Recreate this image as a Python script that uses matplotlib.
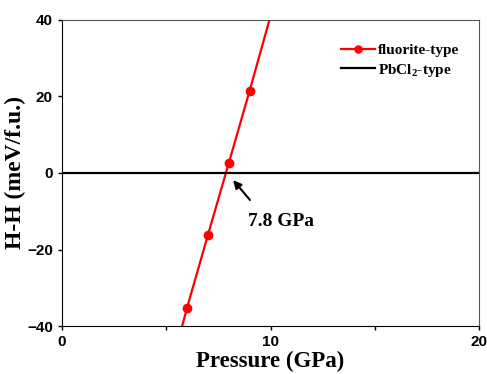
import numpy as np
import matplotlib
matplotlib.use('Agg')
import matplotlib.pyplot as plt

# fluorite-type enthalpy difference vs pressure (ends lie outside the y range)
pressure = [5, 6, 7, 8, 9, 10]
dH_fluorite = [-55.5, -35.2, -16.2, 2.6, 21.5, 41.0]
marked = [1, 2, 3, 4]

# PbCl2-type reference
pressure_ref = [0, 20]
dH_ref = [0, 0]

transition = 7.8

serif = ['Liberation Serif', 'DejaVu Serif']
sans = ['Liberation Sans', 'DejaVu Sans']
plt.rcParams['mathtext.fontset'] = 'custom'
plt.rcParams['mathtext.rm'] = 'Liberation Serif:bold'
plt.rcParams['mathtext.bf'] = 'Liberation Serif:bold'

fig = plt.figure(figsize=(4.87, 3.74), dpi=100)
ax = fig.add_axes([0.127, 0.128, 0.857, 0.819])

ax.plot(pressure, dH_fluorite, '-o', color='red', lw=1.6, ms=6,
        markevery=marked, label='fluorite-type')
ax.plot(pressure_ref, dH_ref, '-', color='black', lw=1.6, label='PbCl$_2$-type')

ax.set_xlim(0, 20)
ax.set_ylim(-40, 40)
ax.set_xticks([0, 10, 20])
ax.set_xticks([5, 15], minor=True)
ax.set_yticks([-40, -20, 0, 20, 40])
ax.tick_params(which='both', direction='out', length=3, width=1)
for lab in ax.get_xticklabels() + ax.get_yticklabels():
    lab.set_family(sans)
    lab.set_fontweight('bold')
    lab.set_fontsize(11)

for s in ['top', 'right']:
    ax.spines[s].set_color('#555555')

ax.set_xlabel('Pressure (GPa)', family=serif, fontweight='bold', fontsize=16.5, labelpad=1)
ax.set_ylabel('H-H (meV/f.u.)', family=serif, fontweight='bold', fontsize=17, labelpad=1)

ax.annotate('', xy=(transition + 0.32, -1.3), xytext=(9.1, -7.6),
            arrowprops=dict(arrowstyle='-|>', color='black', lw=1.5, mutation_scale=12))
ax.text(8.9, -12.8, f'{transition} GPa', family=serif, fontweight='bold',
        fontsize=14, va='center', ha='left')

leg = ax.legend(loc='upper right', bbox_to_anchor=(0.985, 0.968), frameon=False,
                prop={'family': serif, 'weight': 'bold', 'size': 11},
                handlelength=2.2, handletextpad=0.2, labelspacing=0.3, markerscale=0.85)

fig.savefig('out.png', dpi=100)
